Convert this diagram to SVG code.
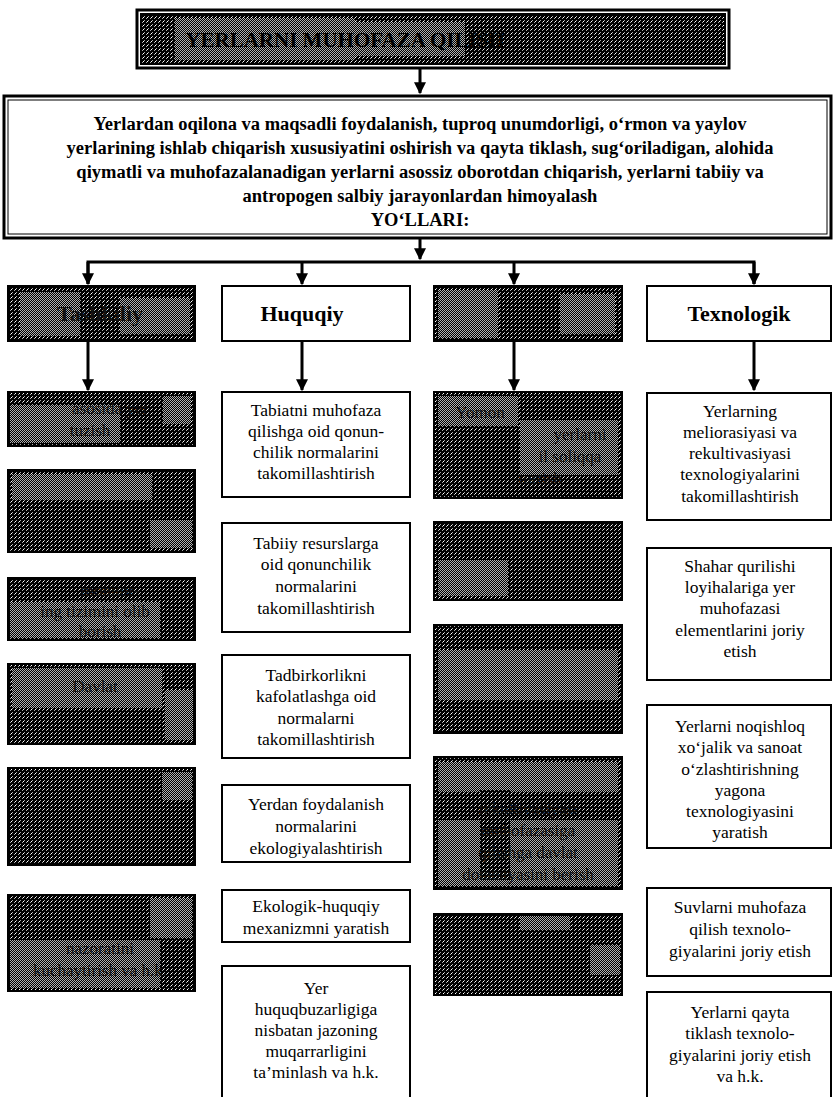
<svg xmlns="http://www.w3.org/2000/svg" width="833" height="1097" viewBox="0 0 833 1097">
<style>
.box{fill:#fff;stroke:#000;stroke-width:2}
.dk{fill:url(#dark);stroke:#000;stroke-width:2}
.mid{fill:url(#mid)}
.t{font-family:"Liberation Serif","Times New Roman",serif;font-size:17.5px;fill:#000;text-anchor:middle}
.tb{font-family:"Liberation Serif","Times New Roman",serif;font-size:18.5px;font-weight:bold;fill:#000;text-anchor:middle}
.th{font-family:"Liberation Serif","Times New Roman",serif;font-size:22px;font-weight:bold;fill:#000;text-anchor:middle}
.fr{font-family:"Liberation Serif","Times New Roman",serif;font-size:17px;fill:#111;text-anchor:middle}
.ln{stroke:#000;stroke-width:3;fill:none}
</style>
<defs>
<pattern id="dark" width="4" height="4" patternUnits="userSpaceOnUse">
<rect width="4" height="4" fill="#000"/>
<rect x="0" y="0" width="1" height="1" fill="#aaa"/>
<rect x="2" y="2" width="1" height="1" fill="#aaa"/>
<rect x="3" y="1" width="1" height="1" fill="#fff"/>
</pattern>
<pattern id="mid" width="2" height="2" patternUnits="userSpaceOnUse">
<rect width="2" height="2" fill="#000"/>
<rect x="0" y="0" width="1" height="1" fill="#b0b0b0"/>
<rect x="1" y="1" width="1" height="1" fill="#b0b0b0"/>
</pattern>
<marker id="ah" viewBox="0 0 10 10" refX="9" refY="5" markerWidth="4" markerHeight="4" orient="auto" markerUnits="strokeWidth">
<path d="M0,0 L10,5 L0,10 z" fill="#000"/>
</marker>
</defs>

<g id="title">
<rect x="137" y="10" width="592" height="58" fill="#fff" stroke="#000" stroke-width="3"/>
<rect x="141" y="14" width="584" height="50" class="dk"/>
<rect x="175" y="18" width="180" height="42" class="mid"/>
<rect x="355" y="22" width="110" height="34" class="mid"/>
<text x="345" y="47" class="tb" style="font-size:21px">YERLARNI MUHOFAZA QILISH</text>
</g>

<g id="main">
<rect x="4" y="96" width="827" height="142" fill="#fff" stroke="#000" stroke-width="3"/>
<rect x="8" y="100" width="819" height="134" fill="none" stroke="#000" stroke-width="1"/>
<text class="tb"><tspan x="420" y="130">Yerlardan oqilona va maqsadli foydalanish, tuproq unumdorligi, o‘rmon va yaylov</tspan><tspan x="420" y="154">yerlarining ishlab chiqarish xususiyatini oshirish va qayta tiklash, sug‘oriladigan, alohida</tspan><tspan x="420" y="178">qiymatli va muhofazalanadigan yerlarni asossiz oborotdan chiqarish, yerlarni tabiiy va</tspan><tspan x="420" y="202">antropogen salbiy jarayonlardan himoyalash</tspan><tspan x="420" y="226">YO‘LLARI:</tspan></text>
</g>

<g id="connectors">
<line x1="420" y1="68" x2="420" y2="93" class="ln" marker-end="url(#ah)"/>
<line x1="420" y1="238" x2="420" y2="259" class="ln" marker-end="url(#ah)"/>
<polyline points="88,284 88,262 754,262 754,284" class="ln" stroke-width="2.5"/>
<line x1="88" y1="262" x2="88" y2="284" class="ln" marker-end="url(#ah)"/>
<line x1="302" y1="262" x2="302" y2="284" class="ln" marker-end="url(#ah)"/>
<line x1="514" y1="262" x2="514" y2="284" class="ln" marker-end="url(#ah)"/>
<line x1="754" y1="262" x2="754" y2="284" class="ln" marker-end="url(#ah)"/>
<line x1="88" y1="341" x2="88" y2="390" class="ln" marker-end="url(#ah)"/>
<line x1="302" y1="341" x2="302" y2="390" class="ln" marker-end="url(#ah)"/>
<line x1="514" y1="341" x2="514" y2="390" class="ln" marker-end="url(#ah)"/>
<line x1="754" y1="341" x2="754" y2="390" class="ln" marker-end="url(#ah)"/>
</g>

<g id="h1"><rect x="8" y="286" width="187" height="55" class="dk"/><rect x="20" y="292" width="60" height="44" class="mid"/><rect x="120" y="298" width="70" height="36" class="mid"/><text x="100" y="321" class="th" style="fill:#111">Tashkiliy</text></g>
<g id="h2"><rect x="222" y="286" width="188" height="55" class="box"/><text x="302" y="321" class="th">Huquqiy</text></g>
<g id="h3"><rect x="434" y="286" width="188" height="55" class="dk"/><rect x="438" y="290" width="60" height="48" class="mid"/><rect x="560" y="294" width="55" height="40" class="mid"/></g>
<g id="h4"><rect x="647" y="286" width="184" height="55" class="box"/><text x="739" y="321" class="th">Texnologik</text></g>

<g id="c1a"><rect x="8" y="392" width="187" height="54" class="dk"/><rect x="10" y="405" width="110" height="38" class="mid"/><rect x="163" y="396" width="28" height="28" class="mid"/><text class="fr"><tspan x="110" y="414">asosida yer</tspan><tspan x="90" y="436">tuzish</tspan></text></g>
<g id="c1b"><rect x="8" y="470" width="187" height="82" class="dk"/><rect x="12" y="474" width="140" height="26" class="mid"/><rect x="150" y="520" width="42" height="28" class="mid"/></g>
<g id="c1c"><rect x="8" y="578" width="187" height="62" class="dk"/><rect x="10" y="602" width="150" height="36" class="mid"/><text class="fr"><tspan x="110" y="596">monitor-</tspan><tspan x="95" y="617">ing tizimini olib</tspan><tspan x="100" y="637">borish</tspan></text></g>
<g id="c1d"><rect x="8" y="664" width="187" height="80" class="dk"/><rect x="12" y="668" width="150" height="40" class="mid"/><rect x="165" y="690" width="28" height="50" class="mid"/><text class="fr"><tspan x="95" y="692">Davlat</tspan></text></g>
<g id="c1e"><rect x="8" y="768" width="187" height="97" class="dk"/><rect x="162" y="772" width="30" height="28" class="mid"/></g>
<g id="c1f"><rect x="8" y="895" width="187" height="96" class="dk"/><rect x="10" y="940" width="150" height="48" class="mid"/><rect x="150" y="898" width="42" height="40" class="mid"/><text class="fr"><tspan x="100" y="954">nazoratini</tspan><tspan x="100" y="976">kuchaytirish va h.k.</tspan></text></g>

<g id="c2a"><rect x="222" y="392" width="188" height="105" class="box"/><text class="t"><tspan x="316" y="416">Tabiatni muhofaza</tspan><tspan x="316" y="437">qilishga oid qonun-</tspan><tspan x="316" y="458">chilik normalarini</tspan><tspan x="316" y="479">takomillashtirish</tspan></text></g>
<g id="c2b"><rect x="222" y="523" width="188" height="109" class="box"/><text class="t"><tspan x="316" y="549">Tabiiy resurslarga</tspan><tspan x="316" y="570">oid qonunchilik</tspan><tspan x="316" y="592">normalarini</tspan><tspan x="316" y="614">takomillashtirish</tspan></text></g>
<g id="c2c"><rect x="222" y="655" width="188" height="103" class="box"/><text class="t"><tspan x="316" y="681">Tadbirkorlikni</tspan><tspan x="316" y="702">kafolatlashga oid</tspan><tspan x="316" y="724">normalarni</tspan><tspan x="316" y="745">takomillashtirish</tspan></text></g>
<g id="c2d"><rect x="222" y="785" width="188" height="77" class="box"/><text class="t"><tspan x="316" y="810">Yerdan foydalanish</tspan><tspan x="316" y="832">normalarini</tspan><tspan x="316" y="854">ekologiyalashtirish</tspan></text></g>
<g id="c2e"><rect x="222" y="890" width="188" height="52" class="box"/><text class="t"><tspan x="316" y="912">Ekologik-huquqiy</tspan><tspan x="316" y="934">mexanizmni yaratish</tspan></text></g>
<g id="c2f"><rect x="222" y="966" width="188" height="140" class="box"/><text class="t"><tspan x="316" y="994">Yer</tspan><tspan x="316" y="1015">huquqbuzarligiga</tspan><tspan x="316" y="1036">nisbatan jazoning</tspan><tspan x="316" y="1057">muqarrarligini</tspan><tspan x="316" y="1078">ta’minlash va h.k.</tspan></text></g>

<g id="c3a"><rect x="434" y="392" width="188" height="106" class="dk"/><rect x="438" y="396" width="80" height="30" class="mid"/><rect x="520" y="420" width="98" height="55" class="mid"/><text class="fr"><tspan x="480" y="418">Yomon</tspan><tspan x="580" y="440">yerlarni</tspan><tspan x="570" y="462">il soliqqa</tspan><tspan x="540" y="484">tortish</tspan></text></g>
<g id="c3b"><rect x="434" y="522" width="188" height="78" class="dk"/><rect x="438" y="560" width="70" height="36" class="mid"/></g>
<g id="c3c"><rect x="434" y="625" width="188" height="108" class="dk"/><rect x="438" y="650" width="180" height="50" class="mid"/></g>
<g id="c3d"><rect x="434" y="757" width="188" height="132" class="dk"/><rect x="438" y="762" width="180" height="30" class="mid"/><rect x="438" y="820" width="180" height="66" class="mid"/><rect x="480" y="790" width="30" height="90" fill="url(#dark)"/><text class="fr"><tspan x="528" y="814">rekultivasiyasi</tspan><tspan x="528" y="836">muhofazasiga</tspan><tspan x="528" y="858">qilishga davlat</tspan><tspan x="528" y="880">dotatsiyasini berish</tspan></text></g>
<g id="c3e"><rect x="434" y="914" width="188" height="81" class="dk"/><rect x="520" y="916" width="50" height="14" class="mid"/><rect x="590" y="945" width="30" height="30" class="mid"/></g>

<g id="c4a"><rect x="647" y="393" width="184" height="127" class="box"/><text class="t"><tspan x="740" y="417">Yerlarning</tspan><tspan x="740" y="438">meliorasiyasi va</tspan><tspan x="740" y="459">rekultivasiyasi</tspan><tspan x="740" y="480">texnologiyalarini</tspan><tspan x="740" y="502">takomillashtirish</tspan></text></g>
<g id="c4b"><rect x="647" y="548" width="184" height="132" class="box"/><text class="t"><tspan x="740" y="572">Shahar qurilishi</tspan><tspan x="740" y="593">loyihalariga yer</tspan><tspan x="740" y="614">muhofazasi</tspan><tspan x="740" y="636">elementlarini joriy</tspan><tspan x="740" y="657">etish</tspan></text></g>
<g id="c4c"><rect x="647" y="705" width="184" height="143" class="box"/><text class="t"><tspan x="740" y="732">Yerlarni noqishloq</tspan><tspan x="740" y="753">xo‘jalik va sanoat</tspan><tspan x="740" y="775">o‘zlashtirishning</tspan><tspan x="740" y="796">yagona</tspan><tspan x="740" y="817">texnologiyasini</tspan><tspan x="740" y="838">yaratish</tspan></text></g>
<g id="c4d"><rect x="647" y="888" width="184" height="88" class="box"/><text class="t"><tspan x="740" y="913">Suvlarni muhofaza</tspan><tspan x="740" y="935">qilish texnolo-</tspan><tspan x="740" y="957">giyalarini joriy etish</tspan></text></g>
<g id="c4e"><rect x="647" y="992" width="184" height="115" class="box"/><text class="t"><tspan x="740" y="1018">Yerlarni qayta</tspan><tspan x="740" y="1039">tiklash texnolo-</tspan><tspan x="740" y="1061">giyalarini joriy etish</tspan><tspan x="740" y="1082">va h.k.</tspan></text></g>
</svg>
